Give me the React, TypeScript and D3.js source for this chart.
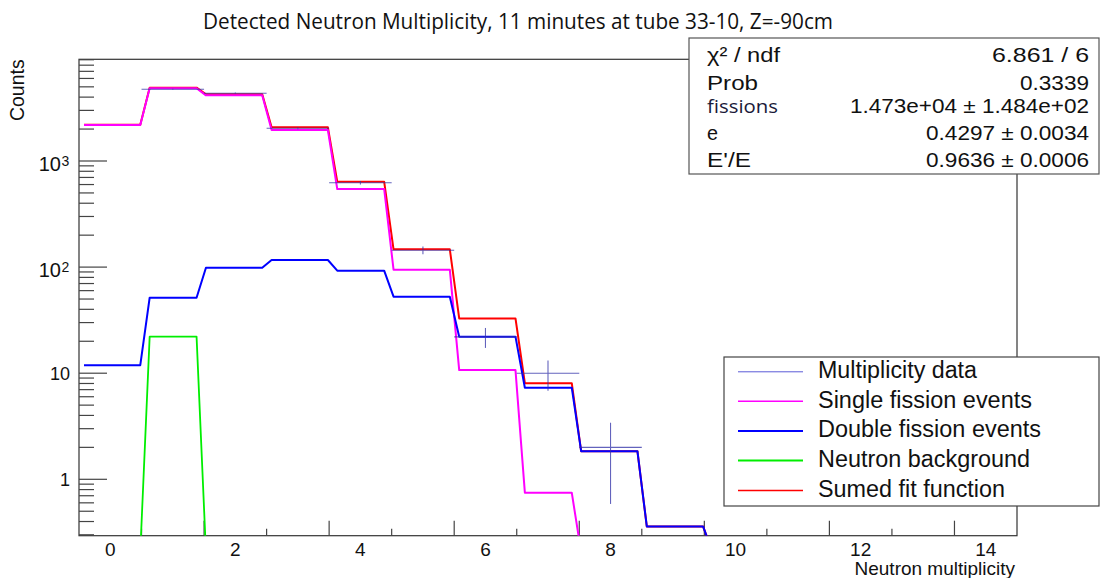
import React from 'react';
import * as d3 from 'd3';

// ---- data ----
const bins = [0, 1, 2, 3, 4, 5, 6, 7, 8, 9, 10, 11, 12, 13, 14];
const singleFission = [2185, 4842, 4159, 1960, 545, 94.5, 10.7, 0.748, 0, 0, 0, 0, 0, 0, 0];
const doubleFission = [11.9, 51.5, 98.7, 116.7, 92.5, 52.6, 22.1, 7.3, 1.84, 0.36, 0, 0, 0, 0, 0];
const neutronBackground = [0, 22.1, 0, 0, 0, 0, 0, 0, 0, 0, 0, 0, 0, 0, 0];
const summedFit = [2197, 4915, 4258, 2077, 638, 147, 32.8, 8.05, 1.84, 0.36, 0, 0, 0, 0, 0];
const dataX = [1, 2, 3, 4, 5, 6, 7, 8];
const dataCounts = [4741, 4348, 2033, 624, 144, 22, 10, 2];
const xTickLabels = [0, 2, 4, 6, 8, 10, 12, 14];
const yDecades = [1, 10, 100, 1000];

const titleText = 'Detected Neutron Multiplicity, 11 minutes at tube 33-10, Z=-90cm';
const xTitle = 'Neutron multiplicity';
const yTitle = 'Counts';

const statsNames = ['χ² / ndf', 'Prob', 'fissions', 'e', "E'/E"];
const statsValues = ['6.861 / 6', '0.3339', '1.473e+04 ± 1.484e+02', '0.4297 ± 0.0034', '0.9636 ± 0.0006'];

const legendLabels = [
  'Multiplicity data',
  'Single fission events',
  'Double fission events',
  'Neutron background',
  'Sumed fit function',
];

// ---- layout ----
const W = 1100;
const H = 578;
const L = 79;
const R = 1017;
const T = 59.3;
const B = 535.7;
const Y1 = 479.3; // pixel of value 1
const DEC = 106.1; // pixels per decade
const yMin = Math.pow(10, -(B - Y1) / DEC);
const yMax = Math.pow(10, (Y1 - T) / DEC);

const FONT = "'Liberation Sans', Arial, Helvetica, sans-serif";

export default function App() {
  const x = d3.scaleLinear().domain([-0.5, 14.5]).range([L, R]);
  const y = d3.scaleLog().domain([yMin, yMax]).range([B, T]);

  const floor = yMin * 0.7;
  const samples = d3.range(100).map((i) => -0.42 + 0.15 * i);
  const curve = (vals: number[]) =>
    d3
      .line<number>()
      .x((s) => x(s))
      .y((s) => {
        const v = vals[Math.round(s)] ?? 0;
        return y(Math.max(v, floor));
      })(samples) || '';

  // ticks
  const yMinor: number[] = [];
  for (let e = -1; e <= 3; e++) {
    for (let k = 2; k <= 9; k++) {
      const v = k * Math.pow(10, e);
      if (v >= yMin && v <= yMax) yMinor.push(v);
    }
  }
  const xTicks = d3.range(0.5, 14, 1);

  const series = [
    { vals: summedFit, color: '#ff0000', w: 2 },
    { vals: singleFission, color: '#ff00ff', w: 2 },
    { vals: doubleFission, color: '#0000ff', w: 2 },
    { vals: neutronBackground, color: '#00ee00', w: 1.8 },
  ];

  const legendColors = ['#5a5ad8', '#ff00ff', '#0000ff', '#00ee00', '#ff0000'];
  const legendWidths = [1, 1.6, 2, 2, 1.6];
  const legendTextLen = [159, 214, 223, 212, 187];
  const legendBase = [378.3, 407.8, 437.4, 467.1, 497];

  const statsBase = [61.5, 90, 112.5, 140, 166.5];
  const statsNameLen = [73, 51, 71, 11, 44];
  const statsValLen = [97, 69, 239, 163, 163];

  return (
    <svg width={W} height={H} style={{ position: 'absolute', left: 0, top: 0, background: '#fff' }}>
      <defs>
        <clipPath id="plotclip">
          <rect x={L} y={T} width={R - L} height={B - T} />
        </clipPath>
      </defs>
      <rect x={0} y={0} width={W} height={H} fill="#ffffff" />

      {/* title */}
      <text
        x={203}
        y={29}
        fontFamily="'Open Sans', 'Noto Sans', sans-serif"
        fontSize={21}
        fill="#111"
        textLength={630}
        lengthAdjust="spacingAndGlyphs"
      >
        {titleText}
      </text>

      {/* frame */}
      <rect x={L} y={T} width={R - L} height={B - T} fill="none" stroke="#333" strokeWidth={1.2} />

      {/* y ticks */}
      {yDecades.map((v) => (
        <line key={'M' + v} x1={L} x2={L + 28} y1={y(v)} y2={y(v)} stroke="#444" strokeWidth={1.2} />
      ))}
      {yMinor.map((v) => (
        <line key={'m' + v} x1={L} x2={L + 15} y1={y(v)} y2={y(v)} stroke="#444" strokeWidth={1.2} />
      ))}

      {/* x ticks */}
      {xTicks.map((t) => {
        const tall = Math.round(t - 0.5) % 2 === 1;
        return (
          <line key={'x' + t} x1={x(t)} x2={x(t)} y1={B} y2={B - (tall ? 15 : 7)} stroke="#444" strokeWidth={1.2} />
        );
      })}

      {/* x tick labels */}
      {xTickLabels.map((v) => (
        <text key={'xl' + v} x={x(v)} y={555.5} textAnchor="middle" fontFamily={FONT} fontSize={19} fill="#111">
          {v}
        </text>
      ))}

      {/* y tick labels */}
      {yDecades.map((v) => {
        const e = Math.round(Math.log10(v));
        const yy = y(v);
        if (e <= 1) {
          return (
            <text key={'yl' + v} x={70} y={yy + 6.8} textAnchor="end" fontFamily={FONT} fontSize={18} fill="#111">
              {v}
            </text>
          );
        }
        return (
          <g key={'yl' + v}>
            <text x={61} y={yy + 10} textAnchor="end" fontFamily={FONT} fontSize={20} fill="#111">
              10
            </text>
            <text x={61.5} y={yy + 5} textAnchor="start" fontFamily={FONT} fontSize={14} fill="#111">
              {e}
            </text>
          </g>
        );
      })}

      {/* axis titles */}
      <text x={1015} y={575} textAnchor="end" fontFamily={FONT} fontSize={19} fill="#111">
        {xTitle}
      </text>
      <text
        transform={`translate(23.5, ${T}) rotate(-90)`}
        textAnchor="end"
        fontFamily={FONT}
        fontSize={19.5}
        fill="#111"
      >
        {yTitle}
      </text>

      {/* curves */}
      <g clipPath="url(#plotclip)">
        {series.map((s, i) => (
          <path
            key={'c' + i}
            d={curve(s.vals)}
            fill="none"
            stroke={s.color}
            strokeWidth={s.w}
            strokeLinejoin="round"
          />
        ))}
        {/* data with error bars */}
        {dataX.map((b, i) => {
          const v = dataCounts[i];
          const err = Math.sqrt(v);
          const lo = Math.max(v - err, floor);
          return (
            <g key={'d' + b} stroke="#3030a8" strokeWidth={1.1} opacity={0.75}>
              <line x1={x(b - 0.5)} x2={x(b + 0.5)} y1={y(v)} y2={y(v)} />
              <line x1={x(b)} x2={x(b)} y1={y(v + err)} y2={y(lo)} />
            </g>
          );
        })}
      </g>

      {/* stats box */}
      <rect x={689} y={38} width={410} height={136} fill="#fff" stroke="#555" strokeWidth={1.2} />
      {statsNames.map((n, i) => (
        <text
          key={'sn' + i}
          x={707}
          y={statsBase[i]}
          fontFamily={i === 2 ? "'Open Sans', 'Noto Sans', sans-serif" : FONT}
          fontSize={i === 2 ? 18 : 20}
          fill={i === 2 ? '#1a1a3a' : '#111'}
          textLength={statsNameLen[i]}
          lengthAdjust="spacingAndGlyphs"
        >
          {n}
        </text>
      ))}
      {statsValues.map((v, i) => (
        <text
          key={'sv' + i}
          x={1089 - statsValLen[i]}
          y={statsBase[i]}
          fontFamily={FONT}
          fontSize={20}
          fill="#111"
          textLength={statsValLen[i]}
          lengthAdjust="spacingAndGlyphs"
        >
          {v}
        </text>
      ))}

      {/* legend */}
      <rect x={724} y={357} width={375} height={149} fill="#fff" stroke="#444" strokeWidth={1.2} />
      {legendLabels.map((lab, i) => (
        <g key={'lg' + i}>
          <line
            x1={738}
            x2={803}
            y1={legendBase[i] - 6.5}
            y2={legendBase[i] - 6.5}
            stroke={legendColors[i]}
            strokeWidth={legendWidths[i]}
          />
          <text
            x={818}
            y={legendBase[i]}
            fontFamily={FONT}
            fontSize={23}
            fill="#111"
            textLength={legendTextLen[i]}
            lengthAdjust="spacingAndGlyphs"
          >
            {lab}
          </text>
        </g>
      ))}
    </svg>
  );
}
